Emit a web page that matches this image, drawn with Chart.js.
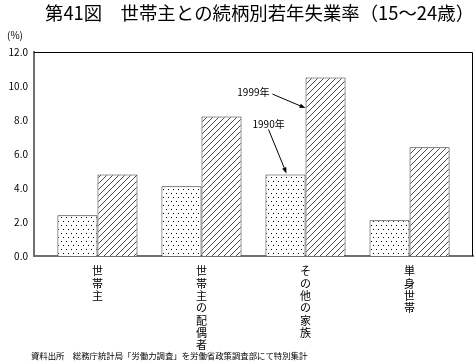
<!DOCTYPE html>
<html lang="ja">
<head>
<meta charset="utf-8">
<title>第41図 世帯主との続柄別若年失業率</title>
<script src="https://cdn.jsdelivr.net/npm/chart.js@4.4.0/dist/chart.umd.min.js"></script>
<style>
  html, body { margin: 0; padding: 0; background: #ffffff; }
  #wrap { position: relative; width: 474px; height: 364px; }
</style>
</head>
<body>
<div id="wrap"><canvas id="chart" width="474" height="364"></canvas></div>
<script>
// Values (%)
const categories = ['世帯主', '世帯主の配偶者', 'その他の家族', '単身世帯'];
const seriesNames = ['1990年', '1999年'];
const values1990 = [2.4, 4.1, 4.8, 2.1];
const values1999 = [4.8, 8.2, 10.5, 6.4];
const yTicks = [0, 2, 4, 6, 8, 10, 12];

const FONT = "'Noto Sans CJK JP', 'Noto Sans', sans-serif";

// fill patterns
function dotPattern() {
  const c = document.createElement('canvas');
  c.width = 10; c.height = 8;
  const g = c.getContext('2d');
  g.fillStyle = '#ffffff';
  g.fillRect(0, 0, 10, 8);
  g.fillStyle = '#000000';
  g.fillRect(1, 1, 1, 1);
  g.fillRect(6, 1, 1, 1);
  g.fillRect(3, 5, 1, 1);
  g.fillRect(8, 5, 1, 1);
  return g.createPattern(c, 'repeat');
}

function hatchPattern() {
  const c = document.createElement('canvas');
  c.width = 6; c.height = 6;
  const g = c.getContext('2d');
  g.fillStyle = '#ffffff';
  g.fillRect(0, 0, 6, 6);
  g.strokeStyle = '#222222';
  g.lineWidth = 0.8;
  g.beginPath();
  g.moveTo(-1, 7); g.lineTo(7, -1);
  g.moveTo(-1, 1); g.lineTo(1, -1);
  g.moveTo(5, 7); g.lineTo(7, 5);
  g.stroke();
  return g.createPattern(c, 'repeat');
}

function arrow(ctx, x1, y1, x2, y2) {
  const a = Math.atan2(y2 - y1, x2 - x1);
  const len = 6, half = 2.2;
  ctx.beginPath();
  ctx.moveTo(x1, y1);
  ctx.lineTo(x2 - Math.cos(a) * len, y2 - Math.sin(a) * len);
  ctx.stroke();
  ctx.beginPath();
  ctx.moveTo(x2, y2);
  ctx.lineTo(x2 - Math.cos(a) * len - Math.sin(a) * half, y2 - Math.sin(a) * len + Math.cos(a) * half);
  ctx.lineTo(x2 - Math.cos(a) * len + Math.sin(a) * half, y2 - Math.sin(a) * len - Math.cos(a) * half);
  ctx.closePath();
  ctx.fill();
}

// title, unit, footer, frame and the two callouts
const decorations = {
  id: 'decorations',
  afterDatasetsDraw(chart) {
    const ctx = chart.ctx;
    const area = chart.chartArea;
    ctx.save();

    // top and right frame lines
    ctx.strokeStyle = '#000000';
    ctx.lineWidth = 1;
    ctx.beginPath();
    ctx.moveTo(area.left, area.top + 0.5);
    ctx.lineTo(area.right - 0.5, area.top + 0.5);
    ctx.lineTo(area.right - 0.5, area.bottom);
    ctx.stroke();

    ctx.fillStyle = '#000000';
    ctx.textBaseline = 'middle';

    // title
    ctx.font = '18.4px ' + FONT;
    ctx.textAlign = 'left';
    ctx.fillText('第41図　世帯主との続柄別若年失業率（15～24歳）', 45, 13);

    // unit
    ctx.font = '10px ' + FONT;
    ctx.fillText('(%)', 7, 35);

    // footer
    ctx.font = '8.4px ' + FONT;
    ctx.fillText('資料出所　総務庁統計局「労働力調査」を労働省政策調査部にて特別集計', 31, 356);

    // callouts on the third group
    const yScale = chart.scales.y;
    const b90 = chart.getDatasetMeta(0).data[2];
    const b99 = chart.getDatasetMeta(1).data[2];
    ctx.font = '10px ' + FONT;
    ctx.lineWidth = 1;

    const t90x = b90.x + 1, t90y = b90.y - 1;
    ctx.textAlign = 'left';
    ctx.fillText(seriesNames[0], t90x - 34, t90y - 49);
    arrow(ctx, t90x - 18, t90y - 44, t90x, t90y);

    const t99x = b99.x - b99.width / 2, t99y = yScale.getPixelForValue(8.7);
    ctx.textAlign = 'right';
    ctx.fillText(seriesNames[1], t99x - 36, t99y - 16);
    arrow(ctx, t99x - 33, t99y - 14, t99x, t99y);

    ctx.restore();
  }
};

const ctx = document.getElementById('chart').getContext('2d');
new Chart(ctx, {
  type: 'bar',
  data: {
    datasets: [
      {
        label: seriesNames[0],
        data: values1990.map((v, i) => ({ x: i, y: v })),
        backgroundColor: dotPattern(),
        borderColor: '#333333',
        borderWidth: 1,
        categoryPercentage: 0.77,
        barPercentage: 1
      },
      {
        label: seriesNames[1],
        data: values1999.map((v, i) => ({ x: i, y: v })),
        backgroundColor: hatchPattern(),
        borderColor: '#333333',
        borderWidth: 1,
        categoryPercentage: 0.77,
        barPercentage: 1
      }
    ]
  },
  options: {
    responsive: false,
    animation: false,
    layout: { padding: { top: 52, right: 1, bottom: 0, left: 0 } },
    plugins: {
      legend: { display: false },
      tooltip: { enabled: false },
      title: { display: false }
    },
    scales: {
      x: {
        type: 'linear',
        min: -0.61,
        max: 3.61,
        offset: false,
        grid: { display: false, drawTicks: false },
        border: { display: true, color: '#707070', width: 2 },
        afterBuildTicks: (scale) => {
          scale.ticks = categories.map((_, i) => ({ value: i }));
        },
        afterFit: (scale) => { scale.height = 108; },
        ticks: {
          autoSkip: false,
          maxRotation: 0,
          minRotation: 0,
          padding: 9,
          color: '#000000',
          font: { family: FONT, size: 11, lineHeight: '12.3px' },
          callback: (value) => categories[value] ? categories[value].split('') : ''
        }
      },
      y: {
        min: 0,
        max: 12,
        grid: { display: false, drawTicks: false },
        border: { display: true, color: '#707070', width: 2 },
        afterBuildTicks: (scale) => {
          scale.ticks = yTicks.map((v) => ({ value: v }));
        },
        afterFit: (scale) => { scale.width = 34; },
        ticks: {
          padding: 6,
          color: '#000000',
          font: { family: FONT, size: 10 },
          callback: (value) => value.toFixed(1)
        }
      }
    }
  },
  plugins: [decorations]
});
</script>
</body>
</html>
